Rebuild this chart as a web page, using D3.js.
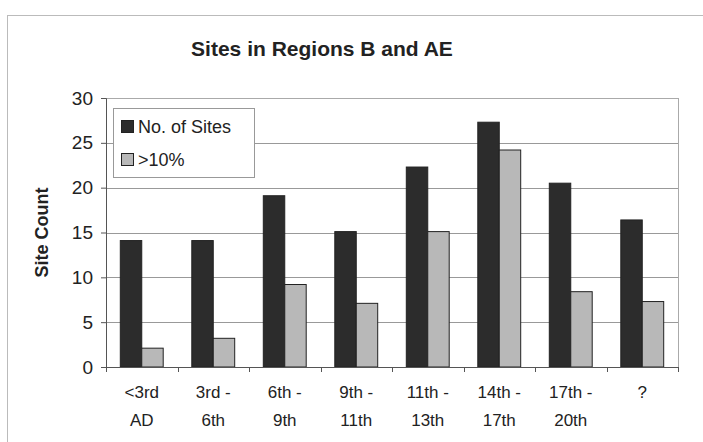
<!DOCTYPE html>
<html>
<head>
<meta charset="utf-8">
<script src="https://cdn.jsdelivr.net/npm/d3@7"></script>
<style>
  body { margin: 0; background: #fff; }
  text { font-family: "Liberation Sans", Arial, sans-serif; fill: #222; }
</style>
</head>
<body>
<svg id="chart" width="703" height="442"></svg>
<script>
var categories = [["<3rd", "AD"], ["3rd -", "6th"], ["6th -", "9th"], ["9th -", "11th"],
                  ["11th -", "13th"], ["14th -", "17th"], ["17th -", "20th"], ["?", ""]];
var sites = [14.1, 14.1, 19.1, 15.1, 22.3, 27.3, 20.5, 16.4];
var over10 = [2.1, 3.2, 9.2, 7.1, 15.1, 24.2, 8.4, 7.3];
var yTicks = [0, 5, 10, 15, 20, 25, 30];
var seriesNames = ["No. of Sites", ">10%"];

var svg = d3.select('#chart');
var margin = {left : 106, right : 25, top : 98, bottom : 75};
var width = 703 - margin.left - margin.right, height = 442 - margin.top - margin.bottom;

// outer chart frame
svg.append('rect').attr('x', 7.5).attr('y', 15.5).attr('width', 720).attr('height', 440)
    .attr('fill', 'none').attr('stroke', '#bbb');

svg.append('text').attr('x', 322).attr('y', 56).attr('text-anchor', 'middle')
    .attr('style', 'font-size:21px; font-weight:bold').text('Sites in Regions B and AE');

var g = svg.append('g').attr('transform', 'translate(' + margin.left + ',' + margin.top + ')');

var x = d3.scaleBand().domain(d3.range(categories.length)).range([0, width]);
var y = d3.scaleLinear().domain([0, 30]).range([height, 0]);
var inner = d3.scaleBand().domain([0, 1]).range([x.bandwidth() * 0.2, x.bandwidth() * 0.8]);

// gridlines
g.selectAll('.grid').data(yTicks.slice(1)).enter().append('line')
    .attr('x1', 0).attr('x2', width).attr('y1', function(d) { return Math.round(y(d)) + 0.5; })
    .attr('y2', function(d) { return Math.round(y(d)) + 0.5; }).attr('stroke', '#999');

// plot frame
g.append('rect').attr('x', 0.5).attr('y', 0.5).attr('width', width).attr('height', height)
    .attr('fill', 'none').attr('stroke', '#aaa');

var colors = ['#2c2c2c', '#b8b8b8'];
[sites, over10].forEach(function(vals, s) {
    g.selectAll('.bar' + s).data(vals).enter().append('rect')
        .attr('x', function(d, i) { return x(i) + inner(s); })
        .attr('y', function(d) { return y(d); })
        .attr('width', inner.bandwidth())
        .attr('height', function(d) { return height - y(d); })
        .attr('fill', colors[s]).attr('stroke', '#222').attr('stroke-width', 1);
});

// y axis
var yAxis = g.append('g').call(d3.axisLeft(y).tickValues(yTicks).tickSize(5).tickPadding(8));
yAxis.select('.domain').attr('stroke', '#555');
yAxis.selectAll('line').attr('stroke', '#555');
yAxis.selectAll('text').attr('style', 'font-size:19px').attr('fill', '#222');

// x axis
var xAxis = g.append('g').attr('transform', 'translate(0,' + height + ')');
xAxis.append('line').attr('x1', 0).attr('x2', width).attr('y1', 0.5).attr('y2', 0.5).attr('stroke', '#555');
xAxis.selectAll('.tick').data(d3.range(categories.length + 1)).enter().append('line')
    .attr('x1', function(d) { return Math.round(d * x.step()) + 0.5; })
    .attr('x2', function(d) { return Math.round(d * x.step()) + 0.5; })
    .attr('y1', 0).attr('y2', 5).attr('stroke', '#555');
var lbl = xAxis.selectAll('.lbl').data(categories).enter().append('text')
    .attr('text-anchor', 'middle').attr('style', 'font-size:17px')
    .attr('transform', function(d, i) { return 'translate(' + (x(i) + x.bandwidth() / 2) + ',0)'; });
lbl.append('tspan').attr('x', 0).attr('y', 31).text(function(d) { return d[0]; });
lbl.append('tspan').attr('x', 0).attr('y', 59).text(function(d) { return d[1]; });

svg.append('text').attr('transform', 'translate(48,' + (margin.top + height / 2) + ') rotate(-90)')
    .attr('text-anchor', 'middle').attr('style', 'font-size:18px; font-weight:bold').text('Site Count');

// legend
var legend = svg.append('g').attr('transform', 'translate(113,108)');
legend.append('rect').attr('x', 0.5).attr('y', 0.5).attr('width', 141).attr('height', 69)
    .attr('fill', '#fff').attr('stroke', '#999');
seriesNames.forEach(function(name, s) {
    var cy = 19 + s * 33;
    legend.append('rect').attr('x', 8.5).attr('y', cy - 6.5).attr('width', 12).attr('height', 12)
        .attr('fill', colors[s]).attr('stroke', '#222');
    legend.append('text').attr('x', 25).attr('y', cy + 6).attr('style', 'font-size:18px').text(name);
});
</script>
</body>
</html>
